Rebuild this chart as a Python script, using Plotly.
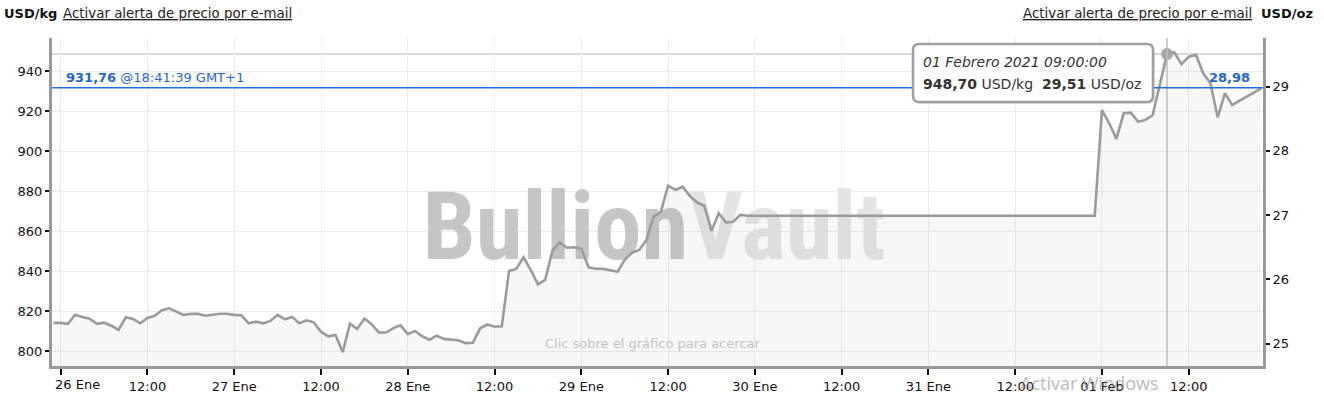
import plotly.graph_objects as go
import pandas as pd

# ---------------- data (USD/kg, hourly, GMT+1) ----------------
KG_TO_OZ = 32.1507466

start_point = ("2021-01-25 23:00", 814.2)
jan26 = [814.2, 813.7, 818.3, 817.2, 816.3, 813.7, 814.3, 812.8, 810.7, 817.0, 816.2, 814.0,
         816.7, 817.8, 820.5, 821.5, 819.7, 818.2, 818.7, 818.7, 817.8, 818.3, 818.8, 818.8]
jan27 = [818.2, 818.0, 814.0, 814.8, 814.0, 815.2, 818.2, 816.0, 817.2, 814.0, 815.5, 814.5,
         809.8, 807.5, 808.2, 799.6, 813.8, 811.2, 816.4, 813.6, 809.4, 809.4, 811.6, 813.0]
jan28 = [808.6, 810.2, 807.5, 805.8, 807.8, 806.2, 805.7, 805.5, 804.1, 804.3, 811.5, 813.4,
         812.3, 812.5, 840.2, 841.2, 847.0, 840.7, 833.5, 835.7, 850.3, 854.5, 851.8, 852.0]
jan29 = [851.2, 842.0, 841.3, 841.2, 840.5, 839.8, 845.7, 849.3, 850.7, 855.7, 867.3, 869.8,
         882.8, 880.7, 882.3, 877.7, 874.5, 872.8, 860.2, 869.0, 864.5, 864.8, 868.2, 867.8]
weekend_point = ("2021-01-31 23:00", 867.8)
feb01 = [920.6, 914.0, 906.2, 919.0, 919.3, 914.8, 915.7, 918.0, 934.0, 948.7, 949.5, 943.6,
         947.3, 948.2, 939.0, 934.0, 917.0, 929.0, 923.2, 925.2, 927.0, 929.3, 931.5]

day_blocks = [("2021-01-26", jan26), ("2021-01-27", jan27), ("2021-01-28", jan28),
              ("2021-01-29", jan29)]

current_price = 931.76
current_label = "@18:41:39 GMT+1"
hover_time = "2021-02-01 09:00"
hover_value = 948.70
hover_title = "01 Febrero 2021 09:00:00"

x_range = ["2021-01-25 22:48", "2021-02-01 22:16"]
y_range = [792.65, 956.65]

tick_vals = ["2021-01-26 00:00", "2021-01-26 12:00", "2021-01-27 00:00", "2021-01-27 12:00",
             "2021-01-28 00:00", "2021-01-28 12:00", "2021-01-29 00:00", "2021-01-29 12:00",
             "2021-01-30 00:00", "2021-01-30 12:00", "2021-01-31 00:00", "2021-01-31 12:00",
             "2021-02-01 00:00", "2021-02-01 12:00"]
tick_text = ["26 Ene", "12:00", "27 Ene", "12:00", "28 Ene", "12:00", "29 Ene", "12:00",
             "30 Ene", "12:00", "31 Ene", "12:00", "01 Feb", "12:00"]
left_ticks = [800, 820, 840, 860, 880, 900, 920, 940]
right_ticks = [25, 26, 27, 28, 29]

# ---------------- build series ----------------
times = [pd.Timestamp(start_point[0])]
vals = [start_point[1]]
for day, block in day_blocks:
    times += list(pd.date_range(day, periods=len(block), freq="h"))
    vals += block
times.append(pd.Timestamp(weekend_point[0]))
vals.append(weekend_point[1])
times += list(pd.date_range("2021-02-01", periods=len(feb01), freq="h"))
vals += feb01

def fmt(v, d=2):
    return f"{v:.{d}f}".replace(".", ",")

FONT = "DejaVu Sans"
W, H = 1324, 396
ML, MR, MT, MB = 52, 61, 38, 30
PW, PH = W - ML - MR, H - MT - MB

def px(x):
    return (x - ML) / PW

def py(y):
    return (H - MB - y) / PH

# watermark position expressed in axis coordinates (so it can sit beneath the line)
xr0, xr1 = pd.Timestamp(x_range[0]), pd.Timestamp(x_range[1])
wm_x = xr0 + (xr1 - xr0) * px(654)
wm_y = y_range[0] + (y_range[1] - y_range[0]) * py(235)

fig = go.Figure()
fig.add_trace(go.Scatter(
    x=[wm_x], y=[wm_y], mode="text",
    text=["<span style='color:#c6c6c6'>Bullion</span><span style='color:#e5e5e5'>Vault</span>"],
    textposition="middle center",
    textfont=dict(family="Liberation Sans Narrow, Roboto Condensed, Roboto", size=95,
                  weight="bold"),
    hoverinfo="skip", showlegend=False, cliponaxis=False))
fig.add_trace(go.Scatter(
    x=times, y=vals, mode="lines",
    line=dict(color="#9b9b9b", width=2.6),
    fill="tozeroy", fillcolor="rgba(120,120,90,0.06)",
    hoverinfo="skip", showlegend=False))
fig.add_trace(go.Scatter(
    x=[pd.Timestamp(hover_time)], y=[hover_value], mode="markers",
    marker=dict(color="#a8a8a8", size=12), hoverinfo="skip", showlegend=False))
fig.add_trace(go.Scatter(x=[times[0]], y=[vals[0] / KG_TO_OZ], yaxis="y2",
                         mode="markers", marker=dict(opacity=0), hoverinfo="skip",
                         showlegend=False))

# tooltip box (rounded rectangle) in paper coords
bx0, bx1, by0, by1, r = px(913), px(1153), py(102), py(44), 6
rx, ry = r / PW, r / PH

def rounded(x0, x1, y0, y1):
    return (f"M{x0+rx},{y0} L{x1-rx},{y0} Q{x1},{y0} {x1},{y0+ry} L{x1},{y1-ry} "
            f"Q{x1},{y1} {x1-rx},{y1} L{x0+rx},{y1} Q{x0},{y1} {x0},{y1-ry} "
            f"L{x0},{y0+ry} Q{x0},{y0} {x0+rx},{y0} Z")

sdx, sdy = 2 / PW, 2 / PH
shapes = [
    dict(type="line", xref="paper", x0=0, x1=1, yref="y", y0=hover_value, y1=hover_value,
         line=dict(color="#cccccc", width=1.5), layer="below"),
    dict(type="line", xref="x", x0=hover_time, x1=hover_time, yref="paper", y0=0, y1=1,
         line=dict(color="#c0c0c0", width=1.5)),
    dict(type="line", xref="paper", x0=0, x1=1, yref="y", y0=current_price, y1=current_price,
         line=dict(color="#1e6fe0", width=1.5)),
    dict(type="path", xref="paper", yref="paper",
         path=rounded(bx0 + sdx, bx1 + sdx, by0 - sdy, by1 - sdy),
         fillcolor="rgba(0,0,0,0.10)", line=dict(width=0)),
    dict(type="path", xref="paper", yref="paper", path=rounded(bx0, bx1, by0, by1),
         fillcolor="white", line=dict(color="#a0a0a0", width=2.5)),
]

annotations = [
    dict(xref="paper", yref="paper", x=px(652), y=py(343), showarrow=False,
         text="Clic sobre el gráfico para acercar", font=dict(family=FONT, size=13, color="#c4c4c4"),
         xanchor="center", yanchor="middle"),
    # current price labels
    dict(xref="paper", yref="y", x=px(64), y=current_price, yshift=1, showarrow=False,
         text=f"<b>{fmt(current_price)}</b> {current_label}",
         font=dict(family=FONT, size=13, color="#1f66d1"), xanchor="left", yanchor="bottom"),
    dict(xref="paper", yref="y", x=px(1252), y=current_price, yshift=1, showarrow=False,
         text=f"<b>{fmt(current_price / KG_TO_OZ)}</b>",
         font=dict(family=FONT, size=13, color="#1f66d1"), xanchor="right", yanchor="bottom"),
    # headers
    dict(xref="paper", yref="paper", x=px(2), y=py(14), showarrow=False,
         text="<b>USD/kg</b>", font=dict(family=FONT, size=13, color="#111111"),
         xanchor="left", yanchor="middle"),
    dict(xref="paper", yref="paper", x=px(61), y=py(14), showarrow=False,
         text="<u>Activar alerta de precio por e-mail</u>",
         font=dict(family=FONT, size=13.4, color="#222222"), xanchor="left", yanchor="middle"),
    dict(xref="paper", yref="paper", x=px(1254), y=py(14), showarrow=False,
         text="<u>Activar alerta de precio por e-mail</u>",
         font=dict(family=FONT, size=13.4, color="#222222"), xanchor="right", yanchor="middle"),
    dict(xref="paper", yref="paper", x=px(1315), y=py(14), showarrow=False,
         text="<b>USD/oz</b>", font=dict(family=FONT, size=13, color="#111111"),
         xanchor="right", yanchor="middle"),
    # tooltip text (two lines)
    dict(xref="paper", yref="paper", x=px(921), y=py(62), showarrow=False,
         xanchor="left", yanchor="middle", text=f"<i>{hover_title}</i>",
         font=dict(family=FONT, size=14, color="#333333")),
    dict(xref="paper", yref="paper", x=px(921), y=py(84), showarrow=False,
         xanchor="left", yanchor="middle",
         text=(f"<b>{fmt(hover_value)}</b> USD/kg  "
               f"<b>{fmt(hover_value / KG_TO_OZ)}</b> USD/oz"),
         font=dict(family=FONT, size=14, color="#333333")),
    # first x label, justified inside the plot area
    dict(xref="paper", yref="paper", x=px(53), y=py(384), showarrow=False,
         text=tick_text[0], font=dict(family=FONT, size=13, color="#111111"),
         xanchor="left", yanchor="middle"),
    # OS overlay text
    dict(xref="paper", yref="paper", x=px(1089), y=py(383), showarrow=False,
         text="Activar Windows", font=dict(family="Open Sans", size=18, color="rgba(140,140,140,0.6)"),
         xanchor="center", yanchor="middle"),
]

fig.update_layout(
    width=W, height=H,
    margin=dict(l=ML, r=MR, t=MT, b=MB, pad=0),
    paper_bgcolor="white", plot_bgcolor="white",
    font=dict(family=FONT, size=13, color="#111111"),
    hovermode=False, showlegend=False,
    shapes=shapes, annotations=annotations,
    xaxis=dict(range=x_range, type="date", tickvals=tick_vals, ticktext=[""] + tick_text[1:],
               showgrid=True, gridcolor="#ececec", gridwidth=1, automargin=False,
               showline=True, linecolor="#999999", linewidth=3,
               ticks="outside", ticklen=6, tickwidth=2, tickcolor="#111111",
               tickfont=dict(family=FONT, size=13, color="#111111"), zeroline=False),
    yaxis=dict(range=y_range, tickvals=left_ticks, ticktext=[str(v) for v in left_ticks],
               showgrid=True, gridcolor="#ececec", gridwidth=1, automargin=False,
               showline=True, linecolor="#999999", linewidth=3,
               ticks="outside", ticklen=4, tickwidth=2, tickcolor="#111111",
               tickfont=dict(family=FONT, size=13, color="#111111"), zeroline=False),
    yaxis2=dict(range=[y_range[0] / KG_TO_OZ, y_range[1] / KG_TO_OZ], overlaying="y",
                side="right", tickvals=right_ticks, ticktext=[str(v) for v in right_ticks],
                showgrid=False, showline=True, linecolor="#999999", linewidth=3, automargin=False,
                ticks="outside", ticklen=4, tickwidth=2, tickcolor="#111111",
                tickfont=dict(family=FONT, size=13, color="#111111"), zeroline=False),
)

fig.write_html("out.html", config={"displayModeBar": False, "staticPlot": True})
